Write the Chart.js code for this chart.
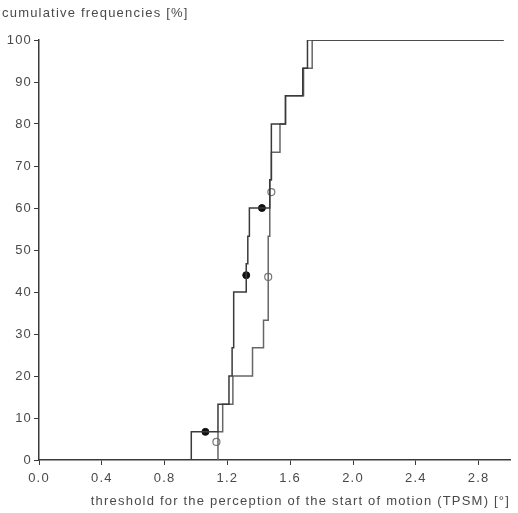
<!DOCTYPE html>
<html>
<head>
<meta charset="utf-8">
<script src="https://cdn.jsdelivr.net/npm/chart.js@4"></script>
<style>
  html, body { margin: 0; padding: 0; background: #fff; }
  #wrap { width: 518px; height: 513px; }
</style>
</head>
<body>
<div id="wrap"><canvas id="chart"></canvas></div>
<script>
// cumulative levels reached after each step [%]
const levels = [6.7, 13.3, 20, 26.7, 33.3, 40, 46.7, 53.3, 60, 66.7, 73.3, 80, 86.7, 93.3, 100];
// threshold values [deg] at which each step happens
const filledSteps = [0.97, 1.14, 1.21, 1.23, 1.24, 1.24, 1.32, 1.33, 1.34, 1.47, 1.48, 1.48, 1.57, 1.68, 1.71];
const openSteps = [1.14, 1.17, 1.235, 1.36, 1.43, 1.46, 1.46, 1.46, 1.47, 1.47, 1.48, 1.535, 1.57, 1.685, 1.74];
const lineEnd = 2.96;

// marker symbols
const filledMarkX = [1.06, 1.32, 1.42];
const filledMarkY = [6.7, 44, 60];
const openMarkX = [1.13, 1.46, 1.48];
const openMarkY = [4.3, 43.6, 63.8];

const xTicks = [0.0, 0.4, 0.8, 1.2, 1.6, 2.0, 2.4, 2.8];
const yTicks = [0, 10, 20, 30, 40, 50, 60, 70, 80, 90, 100];

const ink = '#3a3a3a';
const textCol = '#4a4a4a';
const font = { family: 'Liberation Sans, Arial, sans-serif', size: 13 };
const spacing = '1.2px';

function stepPoints(xs) {
  const pts = [{ x: xs[0], y: 0 }];
  xs.forEach((x, i) => pts.push({ x: x, y: levels[i] }));
  pts.push({ x: lineEnd, y: levels[levels.length - 1] });
  return pts;
}

// wide-ish lettering like the scanned original
const textStyle = {
  id: 'textStyle',
  beforeLayout(chart) { chart.ctx.letterSpacing = spacing; },
  beforeDraw(chart) { chart.ctx.letterSpacing = spacing; },
  afterDraw(chart) {
    const ctx = chart.ctx;
    ctx.save();
    ctx.letterSpacing = spacing;
    ctx.fillStyle = textCol;
    ctx.font = '13px ' + font.family;
    ctx.textBaseline = 'middle';
    ctx.fillText('cumulative frequencies [%]', 2, 13);
    ctx.restore();
  }
};

new Chart(document.getElementById('chart'), {
  type: 'line',
  data: {
    datasets: [
      {
        data: stepPoints(filledSteps),
        stepped: true,
        borderColor: ink,
        borderWidth: 1.5,
        pointRadius: 0,
        fill: false
      },
      {
        data: stepPoints(openSteps),
        stepped: true,
        borderColor: '#666',
        borderWidth: 1.5,
        pointRadius: 0,
        fill: false
      },
      {
        type: 'scatter',
        data: filledMarkX.map((x, i) => ({ x: x, y: filledMarkY[i] })),
        pointRadius: 3.5,
        pointBackgroundColor: '#111',
        pointBorderColor: '#111'
      },
      {
        type: 'scatter',
        data: openMarkX.map((x, i) => ({ x: x, y: openMarkY[i] })),
        pointRadius: 3.5,
        pointBackgroundColor: '#fff',
        pointBorderColor: '#777',
        pointBorderWidth: 1.2
      }
    ]
  },
  options: {
    responsive: true,
    maintainAspectRatio: false,
    animation: false,
    layout: { padding: { top: 40, right: 8, left: 0, bottom: 0 } },
    plugins: {
      legend: { display: false },
      tooltip: { enabled: false }
    },
    scales: {
      x: {
        type: 'linear',
        min: 0,
        max: 3.0,
        afterBuildTicks: (axis) => { axis.ticks = xTicks.map(v => ({ value: v })); },
        afterFit: (axis) => { axis.height = 53; },
        ticks: {
          color: textCol,
          font: font,
          padding: 6,
          maxRotation: 0,
          callback: (v) => v.toFixed(1)
        },
        grid: { drawOnChartArea: false, drawTicks: true, tickLength: 5, color: ink },
        border: { color: ink, width: 1.5 },
        title: {
          display: true,
          text: 'threshold for the perception of the start of motion (TPSM) [°]',
          color: textCol,
          font: font,
          padding: { top: 0 },
          align: 'end'
        }
      },
      y: {
        type: 'linear',
        min: 0,
        max: 100,
        afterBuildTicks: (axis) => { axis.ticks = yTicks.map(v => ({ value: v })); },
        afterFit: (axis) => { axis.width = 39; },
        ticks: { color: textCol, font: font, padding: 2 },
        grid: { drawOnChartArea: false, drawTicks: true, tickLength: 5, color: ink },
        border: { color: ink, width: 1.5 }
      }
    }
  },
  plugins: [textStyle]
});
</script>
</body>
</html>
